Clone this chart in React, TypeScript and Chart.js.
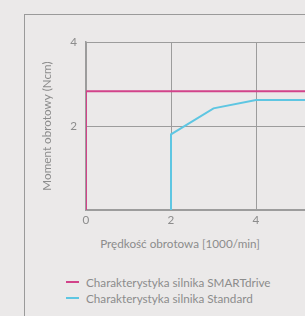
import React, { useEffect, useRef } from "react";
import { Chart, registerables } from "chart.js";

Chart.register(...registerables);

const xTicks = [0, 2, 4, 6];
const yTicks = [0, 2, 4];
const smartX = [0, 0, 6];
const smartY = [0, 2.83, 2.83];
const stdX = [2, 2, 3, 4, 6];
const stdY = [0, 1.8, 2.42, 2.62, 2.62];
const seriesNames = ["Charakterystyka silnika SMARTdrive", "Charakterystyka silnika Standard"];
const seriesColors = ["#d2438a", "#5ec6e2"];
const xTitle = "Prędkość obrotowa [1000/min]";
const yTitle = "Moment obrotowy (Ncm)";

const FONT = "Lato, 'Open Sans', sans-serif";
const TEXT = "#8c8c8c";
const GRID = "#9c9c9c";
const FS = 11.7;

export default function App() {
  const ref = useRef<HTMLCanvasElement>(null);
  useEffect(() => {
    if (!ref.current) return;
    const chart = new Chart(ref.current, {
      type: "scatter",
      data: {
        datasets: [
          {
            label: seriesNames[0],
            data: smartX.map((x, i) => ({ x, y: smartY[i] })),
            borderColor: seriesColors[0],
            backgroundColor: seriesColors[0],
            borderWidth: 2,
            showLine: true,
            pointRadius: 0,
          },
          {
            label: seriesNames[1],
            data: stdX.map((x, i) => ({ x, y: stdY[i] })),
            borderColor: seriesColors[1],
            backgroundColor: seriesColors[1],
            borderWidth: 2,
            showLine: true,
            pointRadius: 0,
          },
        ],
      },
      options: {
        animation: false,
        responsive: false,
        maintainAspectRatio: false,
        layout: { padding: { top: 42, right: 19, left: 0, bottom: 0 } },
        plugins: { legend: { display: false }, tooltip: { enabled: false } },
        scales: {
          x: {
            type: "linear",
            min: xTicks[0],
            max: xTicks[xTicks.length - 1],
            afterFit: (s: any) => {
              s.height = 20;
            },
            afterBuildTicks: (s: any) => {
              s.ticks = xTicks.map((v) => ({ value: v }));
            },
            ticks: {
              color: TEXT,
              font: { family: FONT, size: FS },
              padding: 3,
              maxRotation: 0,
            },
            grid: { color: GRID, lineWidth: 1, drawTicks: false },
            border: { color: GRID, width: 1.5 },
          },
          y: {
            type: "linear",
            min: yTicks[0],
            max: yTicks[yTicks.length - 1],
            afterFit: (s: any) => {
              s.width = 86;
            },
            afterBuildTicks: (s: any) => {
              s.ticks = yTicks.map((v) => ({ value: v }));
            },
            ticks: {
              color: TEXT,
              font: { family: FONT, size: FS },
              padding: 9,
              callback: (v: any) => (v === 0 ? "" : String(v)),
            },
            grid: { color: GRID, lineWidth: 1, drawTicks: false },
            border: { color: GRID, width: 1.5 },
            title: {
              display: true,
              text: yTitle,
              color: TEXT,
              font: { family: FONT, size: FS },
              padding: { top: 40, bottom: 0 },
            },
          },
        },
      },
    });
    return () => chart.destroy();
  }, []);

  return (
    <div
      style={{
        position: "fixed",
        left: 0,
        top: 0,
        width: 305,
        height: 316,
        overflow: "hidden",
        background: "#ebe9e9",
        fontFamily: FONT,
      }}
    >
      <div
        style={{
          position: "absolute",
          left: 24,
          top: 14,
          width: 400,
          height: 400,
          borderLeft: "1.5px solid #9a9a9a",
          borderTop: "1.5px solid #9a9a9a",
        }}
      />
      <canvas
        ref={ref}
        width={360}
        height={230}
        style={{ position: "absolute", left: 0, top: 0, width: 360, height: 230 }}
      />
      <div
        style={{
          position: "absolute",
          left: 0,
          width: 360,
          top: 236,
          textAlign: "center",
          fontSize: FS,
          color: TEXT,
          lineHeight: "14px",
        }}
      >
        {xTitle}
      </div>
      {seriesNames.map((name, i) => (
        <div
          key={name}
          style={{
            position: "absolute",
            left: 66,
            top: 275 + i * 16,
            display: "flex",
            alignItems: "center",
            fontSize: FS,
            color: TEXT,
            lineHeight: "14px",
            whiteSpace: "nowrap",
          }}
        >
          <span
            style={{
              display: "inline-block",
              width: 13,
              height: 2,
              background: seriesColors[i],
              marginRight: 7,
            }}
          />
          {name}
        </div>
      ))}
    </div>
  );
}
